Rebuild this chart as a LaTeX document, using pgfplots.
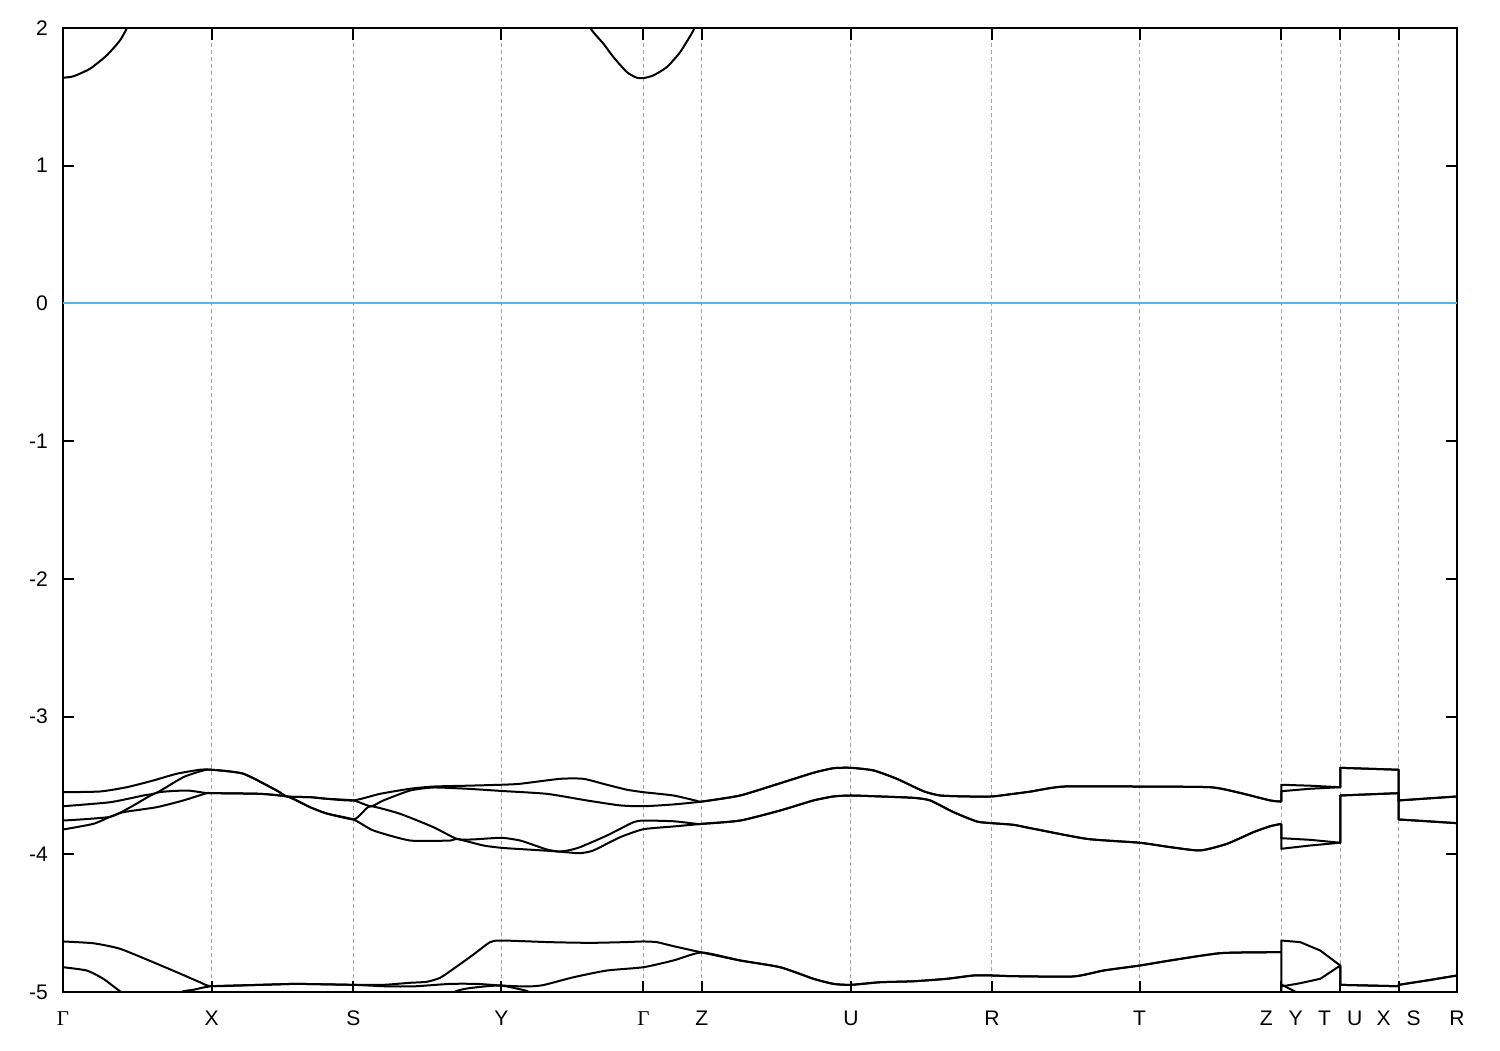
\documentclass[border=0pt]{standalone}
\usepackage{xcolor}
\usepackage{pgfplots}
\pgfplotsset{compat=1.18}
\usepackage{fontspec}
\setmainfont{Liberation Sans}
\newfontfamily\serif{Liberation Serif}
\begin{document}
\begin{tikzpicture}
\path[use as bounding box] (-12.6mm,-11.6mm) rectangle (287.4mm,198.4mm);
\begin{axis}[
  scale only axis, width=278.8mm, height=192.8mm,
  xmin=0, xmax=1393.7, ymin=-5, ymax=2,
  axis line style={line width=0.4mm},
  tick style={black, line width=0.4mm},
  tick align=inside, major tick length=2.3mm,
  xtick={0,148.7,290.3,438.3,580.3,638.7,787.7,928.7,1076.3,1218,1277,1335.3,1393.7},
  xticklabels={{\serif Γ},X,S,Y,{\serif Γ},Z,U,R,T,Z\hspace{3.2mm}Y,T\hspace{3.2mm}U,X\hspace{3.2mm}S,R},
  ytick={-5,-4,-3,-2,-1,0,1,2},
  yticklabels={-5,-4,-3,-2,-1,0,1,2},
  tick label style={font=\fontsize{12}{14}\selectfont},
  xticklabel style={yshift=-2.6mm},
  yticklabel style={xshift=-1.8mm},
  xmajorgrids, major grid style={gray!70, line width=0.2mm, dash pattern=on 0.8mm off 0.6mm},
  band/.style={color=black, line width=0.4mm, line join=round, mark=none},
  sband/.style={band, smooth, tension=0.35},
]
\addplot[color={rgb,255:red,86;green,180;blue,233}, line width=0.4mm, mark=none] coordinates {(0,0) (1393.7,0)};
% conduction band
\addplot[sband] coordinates {(0,1.639) (10.3,1.649) (27,1.704) (43.7,1.801) (57,1.910) (64.3,2.005) (72,2.13)};
\addplot[sband] coordinates {(520,2.15) (527.7,1.995) (540.3,1.886) (550.3,1.789) (563.7,1.680) (573.7,1.639) (580.3,1.636) (590.3,1.656) (603.7,1.716) (617,1.825) (630.3,1.983) (636,2.09)};
% b4
\addplot[sband] coordinates {
(0,-3.549) (37,-3.544) (63.7,-3.513) (90.3,-3.464) (113.7,-3.415) (137,-3.386) (148.7,-3.386)
(180.3,-3.415) (213.7,-3.537) (224,-3.580) (247,-3.585) (263.7,-3.597) (290.3,-3.609)
(317,-3.561) (347,-3.524) (370.3,-3.508) (403.7,-3.502) (438.3,-3.495)
(457,-3.488) (497,-3.452) (520.3,-3.452) (543.7,-3.495) (563.7,-3.531) (580.3,-3.549)
(610.3,-3.573) (633.7,-3.612) (638.7,-3.617)
(677,-3.573) (717,-3.484) (750.3,-3.408) (770.3,-3.375) (787.7,-3.372) (810.3,-3.391) (833.7,-3.452) (860.3,-3.542) (877,-3.573) (903.7,-3.580) (928.7,-3.580) (950.3,-3.561) (967,-3.545) (1000.3,-3.508) (1076.3,-3.508) (1147,-3.513) (1173.7,-3.549) (1207,-3.609) (1218,-3.617)};
\addplot[band] coordinates {(1218,-3.617)
(1218,-3.495) (1247,-3.502) (1277,-3.513)
(1277,-3.372) (1335.3,-3.386)
(1335.3,-3.609) (1393.7,-3.580)};
% b3
\addplot[sband] coordinates {
(0,-3.651) (47,-3.622) (80.3,-3.573) (93.7,-3.553) (120.3,-3.440) (140.3,-3.391) (148.7,-3.386)
(180.3,-3.415) (213.7,-3.537) (224,-3.580) (247,-3.585) (263.7,-3.597) (290.3,-3.609)
(307.7,-3.651) (320.3,-3.609) (347,-3.537) (370.3,-3.515) (403.7,-3.524) (438.3,-3.540)
(483.7,-3.561) (523.7,-3.609) (557,-3.645) (580.3,-3.651)
(610.3,-3.638) (638.7,-3.617)
(677,-3.573) (717,-3.484) (750.3,-3.408) (770.3,-3.375) (787.7,-3.372) (810.3,-3.391) (833.7,-3.452) (860.3,-3.542) (877,-3.573) (903.7,-3.580) (928.7,-3.580) (950.3,-3.561) (967,-3.545) (1000.3,-3.508) (1076.3,-3.508) (1147,-3.513) (1173.7,-3.549) (1207,-3.609) (1218,-3.617)};
\addplot[band] coordinates {(1218,-3.617)
(1218,-3.542) (1247,-3.524) (1277,-3.513)
(1277,-3.372) (1335.3,-3.386)
(1335.3,-3.609) (1393.7,-3.580)};
% b2
\addplot[sband] coordinates {
(0,-3.755) (47,-3.728) (70.3,-3.646) (93.7,-3.553) (123.7,-3.537) (143.7,-3.556) (148.7,-3.556)
(197,-3.561) (224,-3.580) (237,-3.622) (247,-3.658) (263.7,-3.704) (290.3,-3.747)
(298.7,-3.702) (307.7,-3.651) (337,-3.706) (370.3,-3.803) (393.7,-3.888) (410,-3.892) (438.3,-3.880)
(457,-3.900) (470.3,-3.932) (483.7,-3.965) (495,-3.980) (505,-3.972) (517,-3.948) (543.7,-3.864) (570.3,-3.767) (580.3,-3.755)
(610.3,-3.760) (633.7,-3.779) (638.7,-3.779)
(677,-3.755) (717,-3.682) (750.3,-3.609) (770.3,-3.580) (787.7,-3.573) (817,-3.580) (850.3,-3.590) (867,-3.609) (890.3,-3.694) (913.7,-3.762) (928.7,-3.774) (950.3,-3.786) (967,-3.810) (1023.7,-3.888) (1076.3,-3.916) (1107,-3.948) (1137,-3.972) (1163.7,-3.924) (1190.3,-3.839) (1207,-3.796) (1218,-3.779)};
\addplot[band] coordinates {(1218,-3.779)
(1218,-3.883) (1247,-3.895) (1277,-3.916)
(1277,-3.573) (1335.3,-3.556)
(1335.3,-3.747) (1393.7,-3.774)};
% b1
\addplot[sband] coordinates {
(0,-3.820) (30.3,-3.779) (47,-3.728) (60.3,-3.694) (93.7,-3.658) (120.3,-3.609) (143.7,-3.556) (148.7,-3.556)
(197,-3.561) (224,-3.580) (237,-3.622) (247,-3.658) (263.7,-3.704) (290.3,-3.747)
(310.3,-3.827) (347,-3.900) (387,-3.900) (393.7,-3.888) (420.3,-3.936) (438.3,-3.953)
(457,-3.962) (490.3,-3.977) (503,-3.985) (517,-3.992) (530.3,-3.972) (557,-3.876) (580.3,-3.818)
(610.3,-3.798) (638.7,-3.779)
(677,-3.755) (717,-3.682) (750.3,-3.609) (770.3,-3.580) (787.7,-3.573) (817,-3.580) (850.3,-3.590) (867,-3.609) (890.3,-3.694) (913.7,-3.762) (928.7,-3.774) (950.3,-3.786) (967,-3.810) (1023.7,-3.888) (1076.3,-3.916) (1107,-3.948) (1137,-3.972) (1163.7,-3.924) (1190.3,-3.839) (1207,-3.796) (1218,-3.779)};
\addplot[band] coordinates {(1218,-3.779)
(1218,-3.960) (1247,-3.936) (1277,-3.916)
(1277,-3.573) (1335.3,-3.556)
(1335.3,-3.747) (1393.7,-3.774)};
% c2
\addplot[sband] coordinates {
(0,-4.633) (30.3,-4.646) (57,-4.686) (90.3,-4.784) (113.7,-4.856) (137,-4.929) (148.7,-4.958)
(197,-4.948) (230.3,-4.941) (237,-4.941) (290.3,-4.948)
(320.3,-4.948) (347,-4.933) (363.7,-4.926) (377,-4.897) (390.3,-4.832) (410.3,-4.728) (427,-4.638) (438.3,-4.626)
(487,-4.638) (527,-4.643) (560.3,-4.638) (580.3,-4.633) (593.7,-4.638) (610.3,-4.667) (638.7,-4.713)
(677,-4.771) (717,-4.820) (750.3,-4.904) (770.3,-4.941) (787.7,-4.948) (817,-4.929) (850.3,-4.922) (883.7,-4.904) (910.3,-4.880) (928.7,-4.880) (950.3,-4.885) (1010.3,-4.887) (1040.3,-4.844) (1076.3,-4.808) (1107,-4.771) (1157,-4.718) (1207,-4.711) (1218,-4.711)};
\addplot[band] coordinates {(1218,-4.711)
(1218,-4.626) (1237,-4.638) (1257,-4.699) (1277,-4.808)
(1277,-4.948) (1335.3,-4.958)
(1335.3,-4.948) (1363.7,-4.916) (1393.7,-4.880)};
% c1
\addplot[sband] coordinates {
(0,-4.820) (23.7,-4.844) (40.3,-4.904) (58.7,-5.004) (88,-5.15) (117,-5.004) (130.3,-4.984) (148.7,-4.958)
(197,-4.948) (230.3,-4.941) (237,-4.941) (290.3,-4.948)
(320.3,-4.958) (337,-4.960) (353.7,-4.958) (387,-4.941) (413.7,-4.941) (438.3,-4.953)
(463.7,-4.960) (480,-4.950) (510.3,-4.893) (543.7,-4.844) (580.3,-4.820) (610.3,-4.771) (638.7,-4.713)
(677,-4.771) (717,-4.820) (750.3,-4.904) (770.3,-4.941) (787.7,-4.948) (817,-4.929) (850.3,-4.922) (883.7,-4.904) (910.3,-4.880) (928.7,-4.880) (950.3,-4.885) (1010.3,-4.887) (1040.3,-4.844) (1076.3,-4.808) (1107,-4.771) (1157,-4.718) (1207,-4.711) (1218,-4.711)};
\addplot[band] coordinates {(1218,-4.711)
(1218,-4.960) (1237,-4.936) (1257,-4.904) (1277,-4.808)
(1277,-4.948) (1335.3,-4.958)
(1335.3,-4.948) (1363.7,-4.916) (1393.7,-4.880)};
% c0
\addplot[sband] coordinates {
(0,-5.4) (370,-5.15) (390.3,-5.004) (403.7,-4.975) (423.7,-4.958) (438.3,-4.953) (453.7,-4.975) (467,-5.004) (487,-5.15) (600,-5.4) (1218,-5.4)};
\addplot[band] coordinates {(1218,-5.4)
(1218,-4.945) (1233.7,-5.004) (1250,-5.15) (1277,-5.3) (1393.7,-5.4)};
\end{axis}
\end{tikzpicture}
\end{document}
